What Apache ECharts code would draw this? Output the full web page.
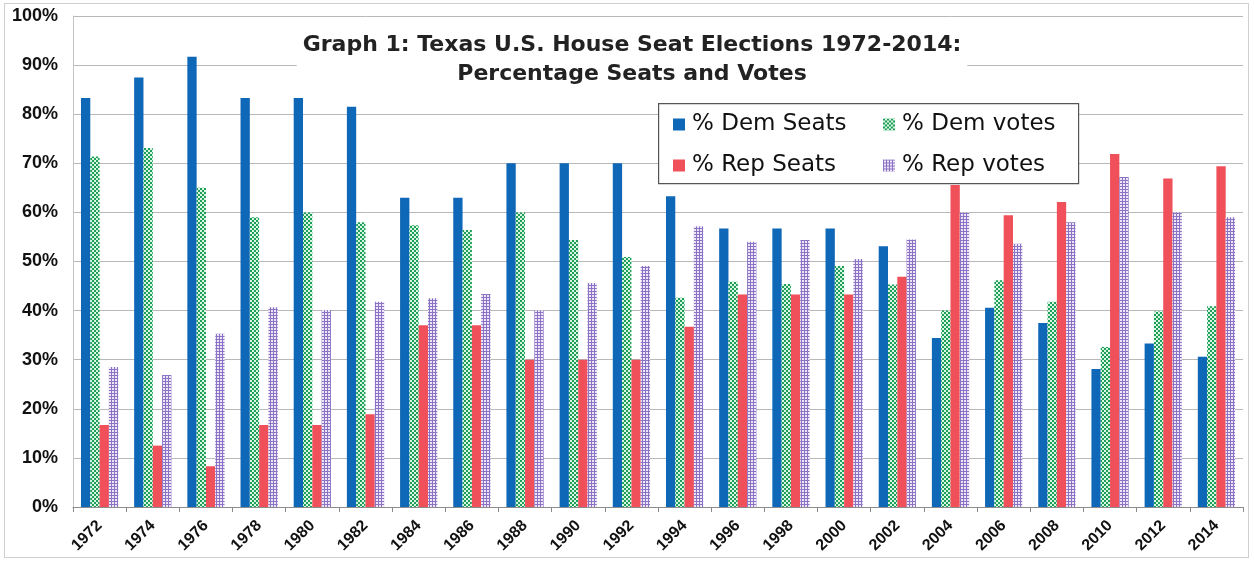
<!DOCTYPE html>
<html>
<head>
<meta charset="utf-8">
<script src="https://cdn.jsdelivr.net/npm/echarts@6/dist/echarts.min.js"></script>
<style>
  html, body { margin: 0; padding: 0; background: #fff; }
  #frame {
    position: absolute; left: 4px; top: 3px; width: 1245px; height: 555px;
    border: 1px solid #cfcfcf; box-sizing: border-box;
  }
  #chart { position: absolute; left: 0; top: 0; width: 1254px; height: 563px; }
</style>
</head>
<body>
<div id="frame"></div>
<div id="chart"></div>
<script>
const years = ['1972', '1974', '1976', '1978', '1980', '1982', '1984', '1986', '1988', '1990', '1992',
  '1994', '1996', '1998', '2000', '2002', '2004', '2006', '2008', '2010', '2012', '2014']
const demSeats = [83.3, 87.5, 91.7, 83.3, 83.3, 81.5, 63, 63, 70, 70, 70,
  63.3, 56.7, 56.7, 56.7, 53.1, 34.4, 40.6, 37.5, 28.1, 33.3, 30.6]
const demVotes = [71.4, 73.1, 65, 59, 60, 58, 57.4, 56.4, 60, 54.4, 50.9,
  42.6, 45.9, 45.4, 49.1, 45.3, 40, 46.2, 41.8, 32.6, 39.8, 40.9]
const repSeats = [16.7, 12.5, 8.3, 16.7, 16.7, 18.9, 37, 37, 30, 30, 30,
  36.7, 43.3, 43.3, 43.3, 46.9, 65.6, 59.4, 62.1, 71.9, 66.9, 69.4]
const repVotes = [28.5, 26.9, 35.3, 40.7, 40.1, 41.8, 42.5, 43.4, 40, 45.6, 49.1,
  57.2, 54, 54.4, 50.5, 54.5, 60, 53.6, 58, 67.2, 60, 59]
const yTicks = [0, 10, 20, 30, 40, 50, 60, 70, 80, 90, 100]

const FONT = '"Liberation Sans", Arial, sans-serif'
const WIDE = '"DejaVu Sans", "Liberation Sans", sans-serif'

function checker(fg, bg, size) {
  const c = document.createElement('canvas')
  c.width = size * 2
  c.height = size * 2
  const ctx = c.getContext('2d')
  ctx.fillStyle = bg
  ctx.fillRect(0, 0, c.width, c.height)
  ctx.fillStyle = fg
  ctx.fillRect(0, 0, size, size)
  ctx.fillRect(size, size, size, size)
  return { image: c, repeat: 'repeat' }
}

function gridPattern(fg, bg, size) {
  const c = document.createElement('canvas')
  c.width = size
  c.height = size
  const ctx = c.getContext('2d')
  ctx.fillStyle = bg
  ctx.fillRect(0, 0, size, size)
  ctx.fillStyle = fg
  ctx.fillRect(0, 0, size, 1)
  ctx.fillRect(0, 0, 1, size)
  return { image: c, repeat: 'repeat' }
}

const chart = echarts.init(document.getElementById('chart'))

function bar(name, data, color) {
  return {
    name,
    type: 'bar',
    data,
    barGap: '0%',
    barCategoryGap: '30%',
    itemStyle: { color },
  }
}

// one legend per column so the two columns line up like the Excel box
function legendColumn(left, names) {
  return {
    left,
    top: 113,
    orient: 'vertical',
    padding: 0,
    itemGap: 18,
    itemWidth: 12,
    itemHeight: 12,
    icon: 'rect',
    z: 6,
    textStyle: { fontFamily: WIDE, fontSize: 23, color: '#111', padding: [0, 0, 0, 2] },
    data: names,
  }
}

chart.setOption({
  animation: false,
  textStyle: { fontFamily: FONT },
  title: {
    text: 'Graph 1: Texas U.S. House Seat Elections 1972-2014:\nPercentage Seats and Votes',
    left: 626,
    top: 27,
    textAlign: 'center',
    backgroundColor: '#fff',
    padding: [4, 6, 8, 6],
    textStyle: { fontFamily: WIDE, fontSize: 22, fontWeight: 'bold', color: '#222', lineHeight: 29 },
  },
  graphic: [{
    type: 'rect',
    left: 658,
    top: 103,
    z: 5,
    shape: { width: 420, height: 80 },
    style: { fill: '#fff', stroke: '#555', lineWidth: 1.2 },
  }],
  legend: [
    legendColumn(673, ['% Dem Seats', '% Rep Seats']),
    legendColumn(883, ['% Dem votes', '% Rep votes']),
  ],
  grid: { left: 73, right: 11, top: 16, bottom: 56, containLabel: false },
  xAxis: {
    type: 'category',
    data: years,
    axisLine: { lineStyle: { color: '#8c8c8c' } },
    axisTick: { show: true, length: 5, lineStyle: { color: '#8c8c8c' } },
    axisLabel: {
      rotate: 45, interval: 0, margin: 16,
      fontFamily: FONT, fontSize: 16, fontWeight: 'bold', color: '#111',
    },
  },
  yAxis: {
    type: 'value',
    min: yTicks[0],
    max: yTicks[yTicks.length - 1],
    interval: 10,
    axisLine: { show: true, lineStyle: { color: '#c4c4c4' } },
    axisTick: { show: false },
    splitLine: { lineStyle: { color: '#b8b8b8', width: 1 } },
    axisLabel: {
      formatter: '{value}%', margin: 15,
      fontFamily: FONT, fontSize: 18, fontWeight: 'bold', color: '#111',
    },
  },
  series: [
    bar('% Dem Seats', demSeats, '#0f67b8'),
    bar('% Dem votes', demVotes, checker('#1f9e55', '#d8f5e6', 2)),
    bar('% Rep Seats', repSeats, '#f0505a'),
    bar('% Rep votes', repVotes, gridPattern('#8a73c4', '#ece6f7', 3)),
  ],
})
</script>
</body>
</html>
